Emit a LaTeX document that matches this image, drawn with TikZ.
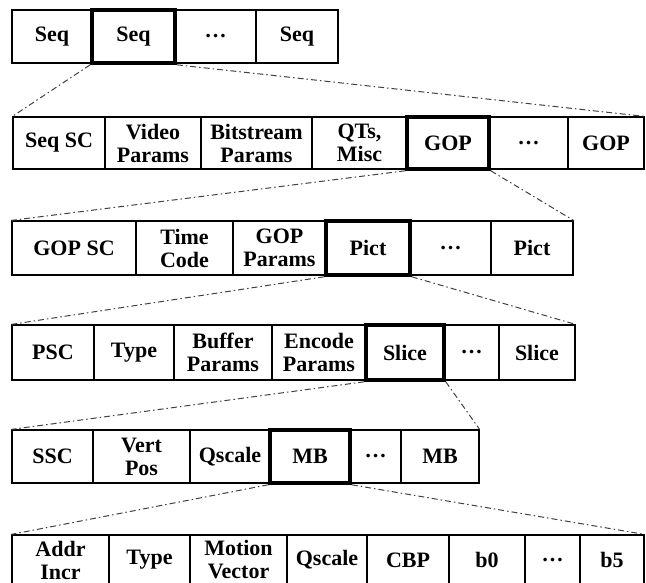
\documentclass[tikz,border=0pt]{standalone}
\usepackage{fontspec}
\setmainfont{Liberation Serif}
\tikzset{
  cell/.style={draw,line width=1.2pt,inner sep=0pt,align=center,
    font=\fontsize{22}{23}\selectfont\bfseries},
  cur/.style={cell,line width=3.6pt},
  zoomline/.style={line width=1pt,black!75,
    dash pattern=on 6pt off 3pt on 1.5pt off 3pt}
}
\begin{document}
\begin{tikzpicture}[x=1pt,y=-1pt]
\useasboundingbox (0,0) rectangle (646,583);

% sequences
\foreach \l/\r/\t/\s [count=\i] in {12/92/Seq/cell, 92/175/Seq/cur,
    175/256/\ldots/cell, 256/338/Seq/cell}
  \node[\s,minimum width={(\r-\l)*1pt},minimum height=53pt] (r1-\i)
    at ({(\l+\r)/2},36.5) {\t};

% sequence layer
\foreach \l/\r/\t/\s [count=\i] in {13/105/Seq SC/cell, 105/201/{Video\\Params}/cell,
    201/312/{Bitstream\\Params}/cell, 312/407/{QTs,\\Misc}/cell, 407/489/GOP/cur,
    489/568/\ldots/cell, 568/644/GOP/cell}
  \node[\s,minimum width={(\r-\l)*1pt},minimum height=52pt] (r2-\i)
    at ({(\l+\r)/2},143) {\t};

% GOP layer
\foreach \l/\r/\t/\s [count=\i] in {12/136/GOP SC/cell, 136/233/{Time\\Code}/cell,
    233/326/{GOP\\Params}/cell, 326/410/Pict/cur, 410/491/\ldots/cell, 491/573/Pict/cell}
  \node[\s,minimum width={(\r-\l)*1pt},minimum height=54pt] (r3-\i)
    at ({(\l+\r)/2},248) {\t};

% picture layer
\foreach \l/\r/\t/\s [count=\i] in {12/94/PSC/cell, 94/174/Type/cell,
    174/272/{Buffer\\Params}/cell, 272/366/{Encode\\Params}/cell, 366/444/Slice/cur,
    444/499/\ldots/cell, 499/575/Slice/cell}
  \node[\s,minimum width={(\r-\l)*1pt},minimum height=55pt] (r4-\i)
    at ({(\l+\r)/2},352.5) {\t};

% slice layer
\foreach \l/\r/\t/\s [count=\i] in {12/93/SSC/cell, 93/190/{Vert\\Pos}/cell,
    190/270/Qscale/cell, 270/350/MB/cur, 350/401/\ldots/cell, 401/479/MB/cell}
  \node[\s,minimum width={(\r-\l)*1pt},minimum height=53pt] (r5-\i)
    at ({(\l+\r)/2},456.5) {\t};

% macroblock layer (cut by the lower edge)
\foreach \l/\r/\t/\s [count=\i] in {12/109/{Addr\\Incr}/cell, 109/190/Type/cell,
    190/287/{Motion\\Vector}/cell, 287/367/Qscale/cell, 367/449/CBP/cell,
    449/525/b0/cell, 525/580/\ldots/cell, 580/644/b5/cell}
  \node[\s,minimum width={(\r-\l)*1pt},minimum height=50pt] (r6-\i)
    at ({(\l+\r)/2},560) {\t};

% zoom lines
\draw[zoomline] (r1-2.south west) -- (r2-1.north west);
\draw[zoomline] (r1-2.south east) -- (r2-7.north east);
\draw[zoomline] (r2-5.south west) -- (r3-1.north west);
\draw[zoomline] (r2-5.south east) -- (r3-6.north east);
\draw[zoomline] (r3-4.south west) -- (r4-1.north west);
\draw[zoomline] (r3-4.south east) -- (r4-7.north east);
\draw[zoomline] (r4-5.south west) -- (r5-1.north west);
\draw[zoomline] (r4-5.south east) -- (r5-6.north east);
\draw[zoomline] (r5-4.south west) -- (r6-1.north west);
\draw[zoomline] (r5-4.south east) -- (r6-8.north east);

\end{tikzpicture}
\end{document}
